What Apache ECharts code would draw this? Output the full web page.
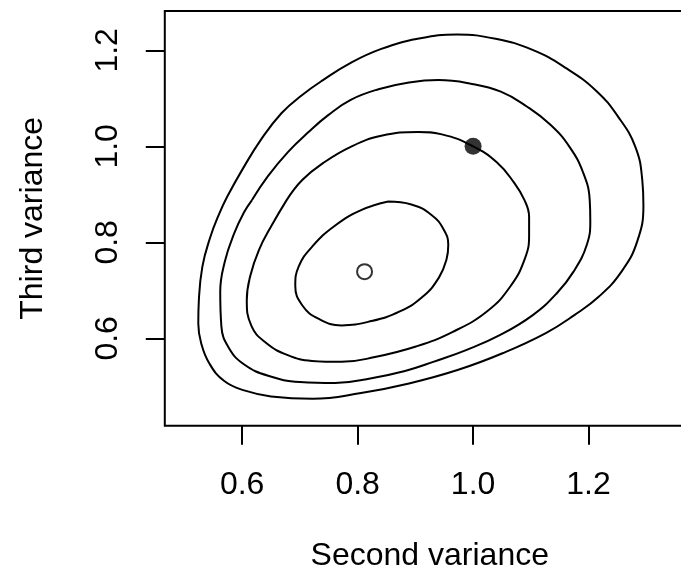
<!DOCTYPE html>
<html>
<head>
<meta charset="utf-8">
<script src="https://cdn.jsdelivr.net/npm/echarts@6/dist/echarts.min.js"></script>
<style>
html,body{margin:0;padding:0;background:#fff;}
#chart{width:681px;height:574px;}
</style>
</head>
<body>
<div id="chart"></div>
<script>
// Tick values
const xTicks = [0.6, 0.8, 1.0, 1.2];
const yTicks = [0.6, 0.8, 1.0, 1.2];
// Axis ranges
const xRange = [0.466, 1.384];
const yRange = [0.418, 1.282];

// Contour lines (second variance, third variance)
const contour1 = [[0.853,0.885],[0.893,0.879],[0.928,0.857],[0.949,0.827],[0.957,0.795],[0.954,0.765],[0.941,0.727],[0.913,0.687],[0.873,0.656],[0.824,0.636],[0.772,0.627],[0.732,0.641],[0.704,0.669],[0.692,0.709],[0.698,0.750],[0.722,0.792],[0.760,0.834],[0.806,0.867],[0.853,0.885]];
const contour2 = [[0.677,0.888],[0.704,0.930],[0.740,0.965],[0.788,0.999],[0.841,1.022],[0.905,1.030],[0.946,1.025],[1.000,1.000],[1.041,0.967],[1.070,0.926],[1.089,0.888],[1.097,0.853],[1.097,0.815],[1.090,0.767],[1.065,0.709],[1.025,0.657],[0.964,0.613],[0.901,0.583],[0.830,0.561],[0.772,0.551],[0.721,0.553],[0.679,0.565],[0.640,0.592],[0.616,0.626],[0.608,0.680],[0.614,0.730],[0.629,0.784],[0.651,0.835],[0.677,0.888]];
const contour3 = [[0.617,0.888],[0.644,0.937],[0.680,0.989],[0.716,1.031],[0.749,1.065],[0.788,1.097],[0.836,1.119],[0.889,1.133],[0.940,1.138],[0.994,1.131],[1.048,1.114],[1.093,1.083],[1.134,1.045],[1.167,0.999],[1.191,0.944],[1.202,0.888],[1.203,0.845],[1.197,0.795],[1.174,0.739],[1.145,0.694],[1.104,0.649],[1.047,0.607],[0.989,0.576],[0.931,0.551],[0.882,0.532],[0.824,0.517],[0.761,0.507],[0.700,0.509],[0.645,0.522],[0.603,0.546],[0.577,0.580],[0.564,0.625],[0.562,0.697],[0.570,0.760],[0.586,0.818],[0.603,0.862],[0.617,0.888]];
const contour4 = [[0.574,0.895],[0.600,0.951],[0.632,1.013],[0.668,1.069],[0.704,1.107],[0.740,1.138],[0.788,1.174],[0.841,1.203],[0.904,1.224],[0.972,1.233],[1.039,1.224],[1.103,1.201],[1.161,1.163],[1.213,1.116],[1.251,1.062],[1.281,0.999],[1.293,0.930],[1.295,0.877],[1.284,0.801],[1.257,0.739],[1.218,0.687],[1.176,0.649],[1.126,0.611],[1.051,0.569],[0.973,0.534],[0.889,0.506],[0.806,0.486],[0.722,0.474],[0.650,0.479],[0.605,0.491],[0.569,0.511],[0.543,0.548],[0.529,0.590],[0.524,0.631],[0.525,0.680],[0.531,0.749],[0.544,0.808],[0.560,0.859],[0.574,0.895]];

// Points
const openPoint = [0.812, 0.739];
const filledPoint = [1.0, 1.0];

const FONT = '"Liberation Sans", Arial, Helvetica, sans-serif';
const FS = 32;

const chart = echarts.init(document.getElementById('chart'), null, {renderer: 'canvas'});

function contourSeries(data) {
  return {
    type: 'line',
    data: data,
    smooth: 0.45,
    showSymbol: false,
    symbol: 'none',
    silent: true,
    lineStyle: {color: '#000', width: 2},
    z: 2
  };
}

chart.setOption({
  animation: false,
  backgroundColor: '#fff',
  grid: {
    left: 164.8, top: 11, width: 530, height: 414.7,
    show: true, borderColor: '#000', borderWidth: 2,
    backgroundColor: 'transparent',
    containLabel: false,
    outerBoundsMode: 'none'
  },
  xAxis: {
    type: 'value',
    min: xRange[0], max: xRange[1],
    name: 'Second variance',
    nameLocation: 'middle',
    nameGap: 114,
    nameTextStyle: {fontFamily: FONT, fontSize: FS, color: '#000'},
    axisLine: {show: false},
    axisTick: {show: true, length: 19, inside: false, customValues: xTicks, lineStyle: {color: '#000', width: 2}},
    axisLabel: {show: true, customValues: xTicks, margin: 43, fontFamily: FONT, fontSize: FS, color: '#000',
      formatter: v => v.toFixed(1)},
    splitLine: {show: false}
  },
  yAxis: {
    type: 'value',
    min: yRange[0], max: yRange[1],
    name: 'Third variance',
    nameLocation: 'middle',
    nameGap: 116,
    nameRotate: 90,
    nameTextStyle: {fontFamily: FONT, fontSize: FS, color: '#000'},
    axisLine: {show: false},
    axisTick: {show: true, length: 19, inside: false, customValues: yTicks, lineStyle: {color: '#000', width: 2}},
    axisLabel: {show: true, customValues: yTicks, margin: 41, rotate: 90, fontFamily: FONT, fontSize: FS, color: '#000',
      formatter: v => v.toFixed(1)},
    splitLine: {show: false}
  },
  series: [
    contourSeries(contour1),
    contourSeries(contour2),
    contourSeries(contour3),
    contourSeries(contour4),
    {
      type: 'scatter',
      data: [openPoint],
      symbol: 'circle',
      symbolSize: 15,
      silent: true,
      itemStyle: {color: '#fff', borderColor: '#000', borderWidth: 2},
      z: 3
    },
    {
      type: 'scatter',
      data: [filledPoint],
      symbol: 'circle',
      symbolSize: 17,
      silent: true,
      itemStyle: {color: '#000'},
      z: 3
    }
  ]
});
</script>
</body>
</html>
